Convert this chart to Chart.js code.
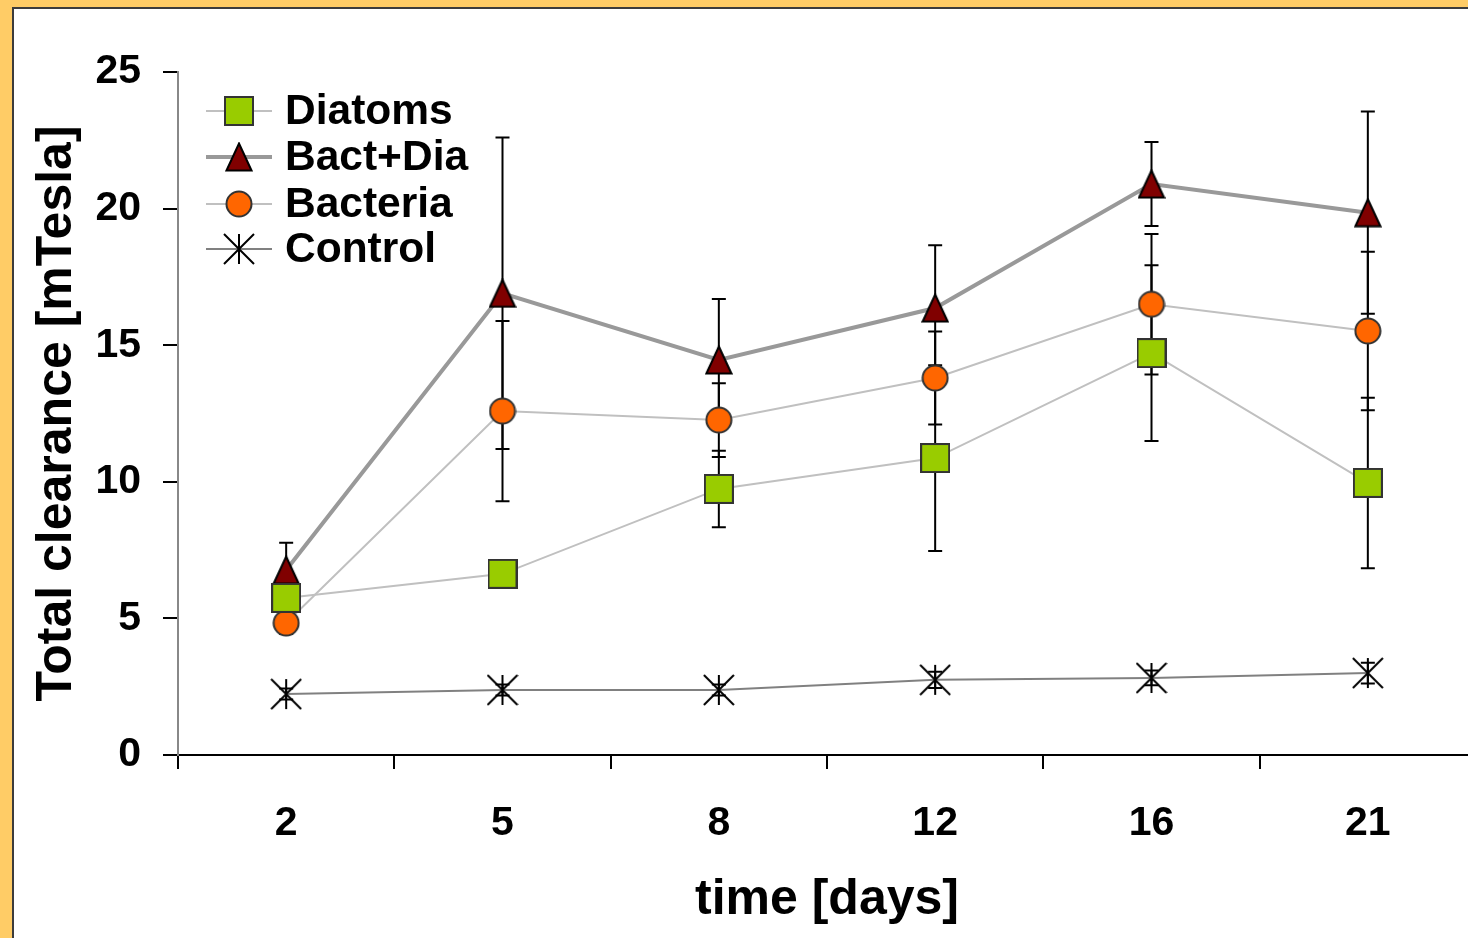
<!DOCTYPE html>
<html><head><meta charset="utf-8">
<script src="https://cdn.jsdelivr.net/npm/chart.js@4.4.1/dist/chart.umd.min.js"></script>
<style>
html,body{margin:0;padding:0;width:1468px;height:938px;overflow:hidden;background:#FFCC66;}
#panel{position:absolute;left:12px;top:7px;width:1500px;height:940px;background:#fff;border-left:2px solid #3c3c3c;border-top:2px solid #3c3c3c;}
#c{position:absolute;left:0;top:0;}
</style></head><body>
<div id="panel"><canvas id="c" width="1480" height="929"></canvas></div>
<script>
const days = ['2', '5', '8', '12', '16', '21'];
const diatoms = [5.75, 6.63, 9.74, 10.87, 14.71, 9.96];
const diatomsErr = [0.4, 0.4, 1.4, 3.4, 3.22, 3.12];
const bactDia = [6.77, 16.9, 14.46, 16.36, 20.9, 19.85];
const bactDiaErr = [1.0, 5.7, 2.23, 2.3, 1.54, 3.7];
const bacteria = [4.83, 12.59, 12.26, 13.8, 16.5, 15.52];
const bacteriaErr = [0.4, 3.3, 1.35, 1.7, 2.57, 2.9];
const control = [2.23, 2.38, 2.38, 2.75, 2.82, 3.0];
const controlErr = [0.2, 0.2, 0.2, 0.3, 0.27, 0.38];
const yTicks = [0, 5, 10, 15, 20, 25];
const seriesNames = ['Diatoms', 'Bact+Dia', 'Bacteria', 'Control'];

function mk(w, h, fn) { const c = document.createElement('canvas'); c.width = w; c.height = h; fn(c.getContext('2d')); return c; }
const sqImg = mk(30, 30, g => { g.fillStyle = '#99CC00'; g.fillRect(1, 1, 28, 28); g.lineWidth = 2; g.strokeStyle = '#333'; g.strokeRect(1, 1, 28, 28); });
const triImg = mk(28, 30, g => { g.beginPath(); g.moveTo(14, 1.5); g.lineTo(26.5, 28.5); g.lineTo(1.5, 28.5); g.closePath(); g.fillStyle = '#800000'; g.fill(); g.lineWidth = 2; g.strokeStyle = '#000'; g.stroke(); });
const ciImg = mk(28, 28, g => { g.beginPath(); g.arc(14, 14, 12.5, 0, Math.PI * 2); g.fillStyle = '#FF6600'; g.fill(); g.lineWidth = 2; g.strokeStyle = '#333'; g.stroke(); });
const stImg = mk(32, 32, g => { g.beginPath(); g.moveTo(16, 1); g.lineTo(16, 31); g.moveTo(1, 1); g.lineTo(31, 31); g.moveTo(31, 1); g.lineTo(1, 31); g.lineWidth = 2; g.strokeStyle = '#000'; g.stroke(); });

const styles = [
  { img: sqImg, line: '#C0C0C0', lw: 2 },
  { img: triImg, line: '#999999', lw: 4 },
  { img: ciImg, line: '#C0C0C0', lw: 2 },
  { img: stImg, line: '#808080', lw: 2 }
];
const values = [diatoms, bactDia, bacteria, control];
const errs = [diatomsErr, bactDiaErr, bacteriaErr, controlErr];
const FONT = '"Liberation Sans", Arial, sans-serif';

const errorBars = {
  id: 'errorBars',
  beforeDatasetsDraw(chart) {
    const ctx = chart.ctx, xs = chart.scales.x, ys = chart.scales.y;
    ctx.save(); ctx.strokeStyle = '#000'; ctx.lineWidth = 2;
    chart.data.datasets.forEach(ds => {
      ds.data.forEach((v, i) => {
        const e = ds.errors[i];
        const px = xs.getPixelForValue(i);
        const top = ys.getPixelForValue(v + e), bot = ys.getPixelForValue(v - e);
        ctx.beginPath();
        ctx.moveTo(px, top); ctx.lineTo(px, bot);
        ctx.moveTo(px - 7, top); ctx.lineTo(px + 7, top);
        ctx.moveTo(px - 7, bot); ctx.lineTo(px + 7, bot);
        ctx.stroke();
      });
    });
    ctx.restore();
  }
};

const legendPlugin = {
  id: 'customLegend',
  afterDraw(chart) {
    const ctx = chart.ctx;
    ctx.save();
    ctx.font = 'bold 42.5px ' + FONT;
    ctx.textBaseline = 'middle'; ctx.textAlign = 'left'; ctx.fillStyle = '#000';
    const rows = [102, 148, 195, 240];
    seriesNames.forEach((n, k) => {
      const y = rows[k];
      ctx.beginPath(); ctx.strokeStyle = styles[k].line; ctx.lineWidth = styles[k].lw;
      ctx.moveTo(192, y); ctx.lineTo(258, y); ctx.stroke();
      const im = styles[k].img;
      ctx.drawImage(im, 225 - im.width / 2, y - im.height / 2);
      ctx.fillText(n, 271, y + 1);
    });
    ctx.restore();
  }
};

const datasets = seriesNames.map((n, k) => ({
  label: n,
  data: values[k],
  errors: errs[k],
  borderColor: styles[k].line,
  borderWidth: styles[k].lw,
  pointStyle: styles[k].img,
  pointRadius: 14,
  tension: 0,
  fill: false
}));

new Chart(document.getElementById('c'), {
  type: 'line',
  data: { labels: days, datasets },
  options: {
    responsive: false,
    animation: false,
    devicePixelRatio: 1,
    layout: { padding: { top: 63, right: 16, left: 0, bottom: 0 } },
    plugins: { legend: { display: false }, tooltip: { enabled: false } },
    scales: {
      x: {
        type: 'category',
        offset: true,
        grid: { offset: true, drawOnChartArea: false, tickLength: 14, color: '#000', lineWidth: 2 },
        border: { color: '#000', width: 2 },
        ticks: { color: '#000', padding: 30, font: { family: FONT, size: 41, weight: 'bold' } },
        title: { display: true, text: 'time [days]', color: '#000', padding: { top: 0, bottom: 8 }, font: { family: FONT, size: 50, weight: 'bold' } },
        afterFit(s) { s.height = 183; }
      },
      y: {
        min: 0, max: 25,
        afterBuildTicks(s) { s.ticks = yTicks.map(v => ({ value: v })); },
        grid: { drawOnChartArea: false, tickLength: 15, color: '#000', lineWidth: 2 },
        border: { color: '#888', width: 2 },
        ticks: { color: '#000', padding: 22, font: { family: FONT, size: 41, weight: 'bold' } },
        title: { display: true, text: 'Total clearance [mTesla]', color: '#000', padding: { top: 13, bottom: 0 }, font: { family: FONT, size: 50, weight: 'bold' } },
        afterFit(s) { s.width = 164; }
      }
    }
  },
  plugins: [errorBars, legendPlugin]
});
</script>
</body></html>
